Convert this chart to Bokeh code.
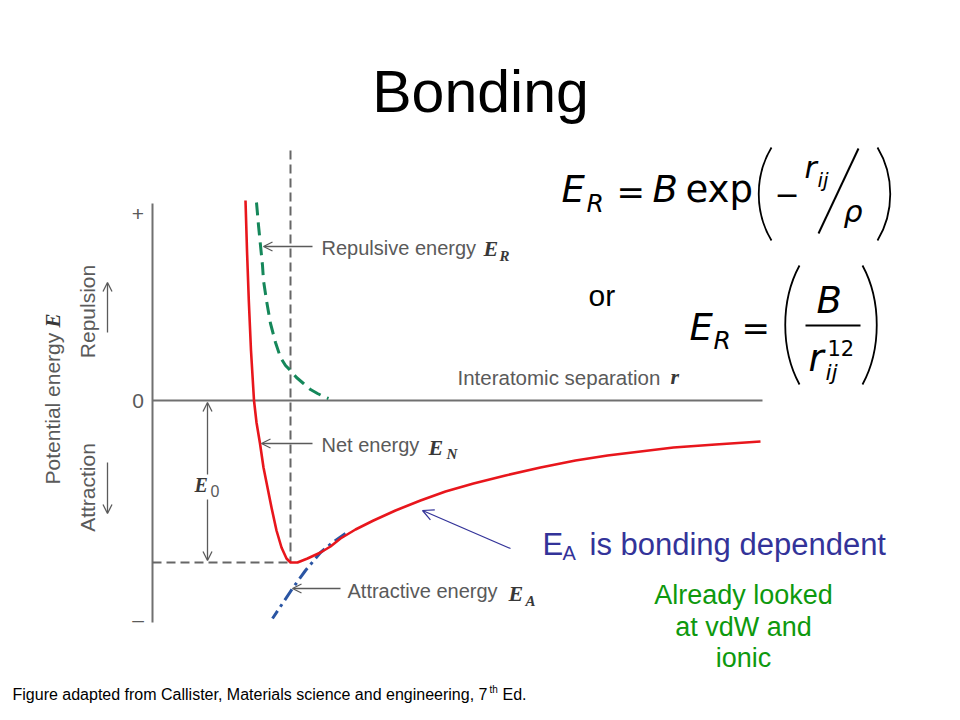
import math
from bokeh.plotting import figure
from bokeh.models import Range1d, Label, Arrow, OpenHead
from bokeh.core.properties import value
from bokeh.embed import file_html
from bokeh.resources import INLINE

# ---------------- data (diagram units: r = separation, E = energy) ----------------
net_r = [0.93, 0.945, 0.963, 0.985, 1.00, 1.015, 1.04, 1.075, 1.11, 1.15, 1.19, 1.24, 1.29,
         1.34, 1.38, 1.45, 1.55, 1.68, 1.78, 1.88, 2.03, 2.21, 2.43, 2.68, 2.93, 3.21, 3.53,
         3.88, 4.23, 4.55, 4.88, 5.21, 5.63, 6.08]
net_E = [2.00, 1.50, 1.00, 0.50, 0.25, 0.00, -0.22, -0.43, -0.67, -0.87, -1.07, -1.30,
         -1.47, -1.58, -1.62, -1.62, -1.58, -1.52, -1.46, -1.38, -1.29, -1.20, -1.10,
         -1.00, -0.91, -0.83, -0.75, -0.67, -0.60, -0.55, -0.51, -0.47, -0.44, -0.41]

rep_r = [1.04, 1.06, 1.08, 1.10, 1.11, 1.14, 1.18, 1.23, 1.28, 1.33, 1.38, 1.44, 1.51,
         1.58, 1.65, 1.71, 1.76]
rep_E = [1.98, 1.75, 1.55, 1.35, 1.20, 1.00, 0.77, 0.58, 0.43, 0.35, 0.30, 0.23, 0.17,
         0.11, 0.07, 0.04, 0.02]

att_r = [1.93, 1.80, 1.68, 1.53, 1.40, 1.30, 1.20]
att_E = [-1.33, -1.42, -1.52, -1.70, -1.88, -2.03, -2.18]

tick_E = [1.87, 0.0, -2.19]
tick_labels = ["+", "0", "\u2013"]

r_eq = 1.38          # equilibrium separation
E_0 = -1.62          # bonding energy
r_axis_end = 6.10
E_axis_top = 1.97
E_axis_bottom = -2.22
E_guide_top = 2.50

# ---------------- layout constants ----------------
X0, Y0, S = 152, 400, 100.0   # pixel position of diagram origin and px per unit
W, H = 944, 704

GRAY = "#5a5a5a"
AXIS = "#707070"
MATH = "#383838"
RED = "#e8161c"
GREEN = "#15875a"
BLUE = "#2a55a3"
NAVY = "#333399"
DGREEN = "#0e990e"

p = figure(width=W, height=H, x_range=Range1d(0, W), y_range=Range1d(H, 0),
           output_backend="svg", toolbar_location=None, min_border=0,
           x_axis_location=None, y_axis_location=None)
p.xgrid.grid_line_color = None
p.ygrid.grid_line_color = None
p.outline_line_color = None
p.background_fill_color = "white"
p.border_fill_color = "white"

p.extra_x_ranges = {"r": Range1d((0 - X0) / S, (W - X0) / S)}
p.extra_y_ranges = {"E": Range1d((Y0 - H) / S, (Y0 - 0) / S)}
RE = dict(x_range_name="r", y_range_name="E")


def lab(x, y, text, size, color="black", font="Liberation Sans", style="normal",
        align="left", angle=0.0, rng=False):
    kw = RE if rng else {}
    p.add_layout(Label(x=x, y=y, text=text, text_font=font, text_font_size=f"{size}px",
                       text_color=color, text_font_style=style, text_align=align,
                       text_baseline="middle", angle=angle, **kw))


def arrow(x0, y0, x1, y1, color=GRAY, lw=1.3, size=9, rng=False):
    kw = RE if rng else {}
    p.add_layout(Arrow(end=OpenHead(size=size, line_color=color, line_width=lw),
                       x_start=x0, y_start=y0, x_end=x1, y_end=y1,
                       line_color=color, line_width=lw, **kw))


# ---------------- title ----------------
lab(480, 91, "Bonding", 59, align="center")

# ---------------- diagram ----------------
p.line([0, 0], [E_axis_top, E_axis_bottom], line_color=AXIS, line_width=2, **RE)
p.line([0, r_axis_end], [0, 0], line_color=AXIS, line_width=2, **RE)
p.text(x=[-0.145] * 3, y=tick_E, text=tick_labels, text_font=value("Liberation Sans"),
       text_font_size=value("21px"), text_color=GRAY, text_align="center",
       text_baseline="middle", **RE)

p.line([r_eq, r_eq], [E_guide_top, E_0], line_color="#666666", line_width=2,
       line_dash="9 5", **RE)
p.line([0, r_eq], [E_0, E_0], line_color="#666666", line_width=2, line_dash="9 5", **RE)

p.line(rep_r, rep_E, line_color=GREEN, line_width=3, line_dash="13 7", **RE)
p.line(att_r, att_E, line_color=BLUE, line_width=3, line_dash="13 5 3 5", **RE)
p.line(net_r, net_E, line_color=RED, line_width=2.6, line_join="round", **RE)

# E0 double arrow
arrow(0.55, -0.74, 0.55, -0.02, rng=True)
arrow(0.55, -0.99, 0.55, -1.60, rng=True)
lab(194, 484, "E", 20, color=MATH, font="Liberation Serif", style="bold italic")
lab(210, 490, "0", 16, color=GRAY)

# left side labels
lab(52, 484, "Potential energy", 21, color=GRAY, angle=math.pi / 2)
lab(52, 327, "E", 21, color=MATH, font="Liberation Serif", style="bold italic",
    angle=math.pi / 2)
lab(87, 311, "Repulsion", 21, color=GRAY, align="center", angle=math.pi / 2)
lab(87, 487, "Attraction", 21, color=GRAY, align="center", angle=math.pi / 2)
arrow(107, 332, 107, 282)
arrow(107, 462, 107, 513)

# curve annotations
arrow(1.60, 1.54, 1.11, 1.54, rng=True)
lab(321, 247, "Repulsive energy", 20, color=GRAY)
lab(483, 248, "E", 22, color=MATH, font="Liberation Serif", style="bold italic")
lab(499, 255, "R", 15, color=MATH, font="Liberation Serif", style="bold italic")

lab(457, 377, "Interatomic separation", 20.5, color=GRAY)
lab(670, 376, "r", 22, color=MATH, font="Liberation Serif", style="bold italic")

arrow(1.60, -0.43, 1.09, -0.43, rng=True)
lab(321, 444, "Net energy", 20, color=GRAY)
lab(428, 447, "E", 22, color=MATH, font="Liberation Serif", style="bold italic")
lab(446, 453, "N", 15, color=MATH, font="Liberation Serif", style="bold italic")

arrow(1.88, -1.88, 1.40, -1.88, rng=True)
lab(347, 590, "Attractive energy", 20, color=GRAY)
lab(508, 593, "E", 22, color=MATH, font="Liberation Serif", style="bold italic")
lab(525, 600, "A", 15, color=MATH, font="Liberation Serif", style="bold italic")

# ---------------- formulas ----------------
MF = "DejaVu Sans"
# formula 1
lab(561, 189, "E", 37, font=MF, style="italic")
lab(586, 203, "R", 25, font=MF, style="italic")
lab(616, 191, "=", 34, font=MF)
lab(652, 189, "B", 37, font=MF, style="italic")
lab(685, 189, "exp", 37, font=MF)
p.bezier(x0=[771], y0=[147], x1=[771], y1=[240], cx0=[754], cy0=[175], cx1=[754], cy1=[212],
         line_color="black", line_width=1.8)
lab(774, 193, "\u2212", 30, font=MF)
lab(804, 167, "r", 30, font=MF, style="italic")
lab(817, 179, "ij", 20, font=MF, style="italic")
p.line([858, 818], [148, 233], line_color="black", line_width=2)
lab(843, 211, "\u03c1", 30, font=MF, style="italic")
p.bezier(x0=[877], y0=[147], x1=[877], y1=[240], cx0=[894], cy0=[175], cx1=[894], cy1=[212],
         line_color="black", line_width=1.8)

# "or"
lab(588, 295, "or", 30)

# formula 2
lab(689, 327, "E", 37, font=MF, style="italic")
lab(713, 340, "R", 25, font=MF, style="italic")
lab(741, 327, "=", 34, font=MF)
p.bezier(x0=[799], y0=[265], x1=[799], y1=[384], cx0=[780], cy0=[300], cx1=[780], cy1=[349],
         line_color="black", line_width=1.8)
lab(816, 300, "B", 37, font=MF, style="italic")
p.line([805, 860], [325, 325], line_color="black", line_width=2)
lab(808, 358, "r", 37, font=MF, style="italic")
lab(827, 347, "12", 21, font=MF)
lab(825, 372, "ij", 22, font=MF, style="italic")
p.bezier(x0=[862], y0=[265], x1=[862], y1=[384], cx0=[881], cy0=[300], cx1=[881], cy1=[349],
         line_color="black", line_width=1.8)

# ---------------- E_A note ----------------
arrow(510, 548, 422, 510, color=NAVY, lw=1.2, size=11)
lab(542, 544, "E", 31, color=NAVY)
lab(562, 552, "A", 20, color=NAVY)
lab(589, 544, "is bonding dependent", 31, color=NAVY)

lab(743, 594, "Already looked", 27, color=DGREEN, align="center")
lab(743, 626, "at vdW and", 27, color=DGREEN, align="center")
lab(743, 657, "ionic", 27, color=DGREEN, align="center")

# ---------------- footnote ----------------
lab(12, 694, "Figure adapted from Callister, Materials science and engineering, 7", 16)
lab(489, 689, "th", 10)
lab(502, 694, "Ed.", 16)

open("out.html", "w").write(file_html(p, INLINE))
